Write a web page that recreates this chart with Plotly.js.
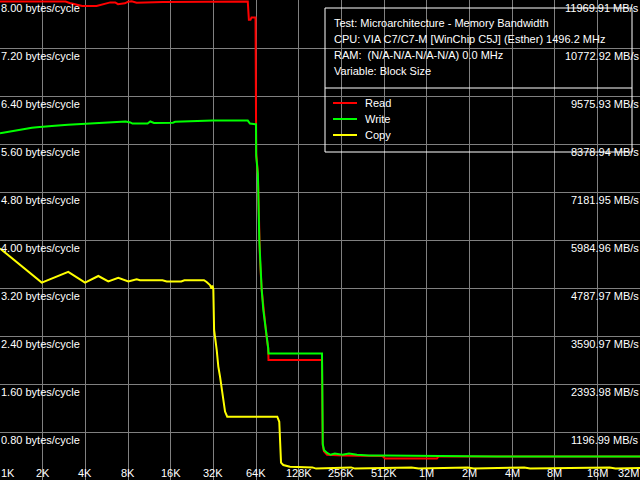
<!DOCTYPE html>
<html>
<head>
<meta charset="utf-8">
<script src="https://cdn.plot.ly/plotly-3.0.1.min.js"></script>
<style>html,body{margin:0;padding:0;background:#000;}#chart{width:640px;height:480px;}</style>
</head>
<body>
<div id="chart"></div>
<script>
// ---- data (block size in KB, bandwidth in bytes/cycle) ----
const seriesNames = ['Read', 'Write', 'Copy'];
const seriesColors = ['#ff0000', '#00ff00', '#ffff00'];

const readKB = [1, 2.9, 3.1, 3.4, 3.8, 4.8, 5.06, 5.7, 6.0, 6.5, 6.8, 7.6, 8.0, 8.5, 9.2, 14.1, 27, 56, 57, 58.5, 59.5, 63.5, 64, 64.2, 66.0, 67.5, 68.3, 70.2, 72.1, 74.2, 76.1, 78.0, 78.4, 187, 188, 189.3, 193, 203, 260, 500, 520, 1210, 1240, 32768];
const readVal = [7.975, 7.975, 7.95, 7.93, 7.90, 7.90, 7.915, 7.945, 7.96, 7.96, 7.93, 7.945, 7.97, 7.98, 7.955, 7.965, 7.975, 7.975, 7.67, 7.67, 7.71, 7.71, 6.12, 5.45, 5.1, 4.0, 3.67, 3.17, 2.83, 2.62, 2.38, 2.2, 2.0, 2.0, 1.2, 0.58, 0.48, 0.42, 0.41, 0.40, 0.36, 0.36, 0.39, 0.39];

const writeKB = [1, 1.12, 1.24, 1.34, 1.5, 1.68, 1.82, 2.0, 2.44, 3.02, 4.11, 5.06, 7.02, 7.7, 8.3, 8.6, 11.0, 11.5, 12.2, 16.6, 17.2, 31.5, 56, 58, 63.5, 64, 64.2, 66.0, 67.5, 68.3, 70.2, 72.1, 74.2, 76.1, 78.0, 78.4, 187, 188, 189.3, 193, 203, 215, 230, 260, 290, 330, 400, 512, 1100, 1400, 2300, 2500, 3200, 32768];
const writeVal = [5.78, 5.80, 5.82, 5.84, 5.855, 5.87, 5.88, 5.89, 5.905, 5.92, 5.94, 5.955, 5.97, 5.975, 5.96, 5.94, 5.94, 5.975, 5.95, 5.955, 5.97, 5.99, 5.99, 5.94, 5.93, 5.93, 5.4, 5.1, 4.0, 3.67, 3.17, 2.83, 2.62, 2.38, 2.2, 2.11, 2.11, 1.5, 0.6, 0.5, 0.45, 0.42, 0.44, 0.42, 0.44, 0.42, 0.41, 0.41, 0.40, 0.40, 0.39, 0.40, 0.39, 0.39];

const copyKB = [1, 1.97, 3.03, 3.98, 4.94, 5.81, 6.83, 8.04, 9.21, 9.72, 14, 15, 19, 20, 25.8, 27.5, 28.7, 30.3, 31.1, 31.5, 32, 32.4, 33.8, 34.7, 35.7, 36.7, 37.6, 38.7, 40.1, 90.4, 93.4, 94.5, 96.1, 99.7, 111, 160, 170, 300, 320, 800, 900, 2000, 2200, 5000, 5500, 20000, 22000, 32768];
const copyVal = [3.86, 3.29, 3.47, 3.29, 3.40, 3.31, 3.37, 3.31, 3.345, 3.33, 3.33, 3.31, 3.31, 3.33, 3.33, 3.33, 3.30, 3.25, 3.19, 3.24, 3.18, 2.5, 2.17, 1.89, 1.72, 1.5, 1.31, 1.14, 1.055, 1.055, 0.97, 0.61, 0.29, 0.25, 0.22, 0.21, 0.19, 0.21, 0.19, 0.21, 0.19, 0.21, 0.19, 0.21, 0.19, 0.21, 0.19, 0.2];

// ---- ticks / labels ----
const xTickKB = [1, 2, 4, 8, 16, 32, 64, 128, 256, 512, 1024, 2048, 4096, 8192, 16384, 32768];
const xTickText = ['1K', '2K', '4K', '8K', '16K', '32K', '64K', '128K', '256K', '512K', '1M', '2M', '4M', '8M', '16M', '32M'];
const yTickVals = [0.8, 1.6, 2.4, 3.2, 4.0, 4.8, 5.6, 6.4, 7.2, 8.0];
const yLeftText = ['0.80 bytes/cycle', '1.60 bytes/cycle', '2.40 bytes/cycle', '3.20 bytes/cycle', '4.00 bytes/cycle', '4.80 bytes/cycle', '5.60 bytes/cycle', '6.40 bytes/cycle', '7.20 bytes/cycle', '8.00 bytes/cycle'];
const yRightText = ['1196.99 MB/s', '2393.98 MB/s', '3590.97 MB/s', '4787.97 MB/s', '5984.96 MB/s', '7181.95 MB/s', '8378.94 MB/s', '9575.93 MB/s', '10772.92 MB/s', '11969.91 MB/s'];
const infoLines = ['Test: Microarchitecture - Memory Bandwidth', 'CPU: VIA C7/C7-M [WinChip C5J] (Esther) 1496.2 MHz', 'RAM: \u00a0(N/A-N/A-N/A-N/A) 0.0 MHz', 'Variable: Block Size'];

const W = 640, H = 480;
const FONT = {family: 'Liberation Sans, Arial, sans-serif', size: 11, color: '#ffffff'};

const xs = [readKB, writeKB, copyKB];
const ys = [readVal, writeVal, copyVal];
const traces = seriesNames.map((n, i) => ({
  type: 'scatter', mode: 'lines', name: n,
  x: xs[i], y: ys[i],
  line: {color: seriesColors[i], width: 2},
  hoverinfo: 'skip'
}));

const annotations = [];
// x labels
xTickKB.forEach((kb, i) => {
  annotations.push({
    xref: 'x', yref: 'paper', x: Math.log10(kb), y: 0,
    xanchor: i === 0 ? 'left' : (i === xTickKB.length - 1 ? 'right' : 'center'),
    yanchor: 'bottom', yshift: 0,
    text: xTickText[i], showarrow: false, font: FONT, borderpad: 0
  });
});
// y labels (left and right)
yTickVals.forEach((v, i) => {
  annotations.push({xref: 'paper', yref: 'y', x: 0, y: v, xanchor: 'left', yanchor: 'top', xshift: 0, yshift: -1,
    text: yLeftText[i], showarrow: false, font: FONT, borderpad: 0});
  annotations.push({xref: 'paper', yref: 'y', x: 1, y: v, xanchor: 'right', yanchor: 'top', yshift: -1,
    text: yRightText[i], showarrow: false, font: FONT, borderpad: 0});
});

// info / legend box
const bx0 = 325 / W, bx1 = 632 / W;
const py = p => 1 - p / H;
const shapes = [
  {type: 'rect', xref: 'paper', yref: 'paper', x0: bx0, x1: bx1, y0: py(152), y1: py(8), line: {color: '#ffffff', width: 1}, fillcolor: 'rgba(0,0,0,0)'},
  {type: 'line', xref: 'paper', yref: 'paper', x0: bx0, x1: bx1, y0: py(88), y1: py(88), line: {color: '#ffffff', width: 1}}
];
infoLines.forEach((t, i) => {
  annotations.push({xref: 'paper', yref: 'paper', x: 333 / W, y: py(23 + 16 * i), xanchor: 'left', yanchor: 'middle',
    text: t, showarrow: false, font: FONT, borderpad: 0});
});
seriesNames.forEach((n, i) => {
  const yc = py(103 + 16 * i);
  shapes.push({type: 'line', xref: 'paper', yref: 'paper', x0: 333 / W, x1: 357 / W, y0: yc, y1: yc, line: {color: seriesColors[i], width: 2}});
  annotations.push({xref: 'paper', yref: 'paper', x: 364 / W, y: yc, xanchor: 'left', yanchor: 'middle',
    text: n, showarrow: false, font: FONT, borderpad: 0});
});

const layout = {
  width: W, height: H,
  margin: {l: 0, r: 0, t: 0, b: 0, pad: 0},
  paper_bgcolor: '#000000', plot_bgcolor: '#000000',
  showlegend: false,
  font: FONT,
  xaxis: {type: 'log', range: [0, Math.log10(32768)], tickvals: xTickKB, showticklabels: false,
    showgrid: true, gridcolor: '#808080', gridwidth: 1, zeroline: false, showline: false, ticks: ''},
  yaxis: {range: [0, 8], tickvals: yTickVals, showticklabels: false,
    showgrid: true, gridcolor: '#808080', gridwidth: 1, zeroline: false, showline: false, ticks: ''},
  annotations: annotations,
  shapes: shapes
};

Plotly.newPlot('chart', traces, layout, {staticPlot: true, displayModeBar: false});
</script>
</body>
</html>
